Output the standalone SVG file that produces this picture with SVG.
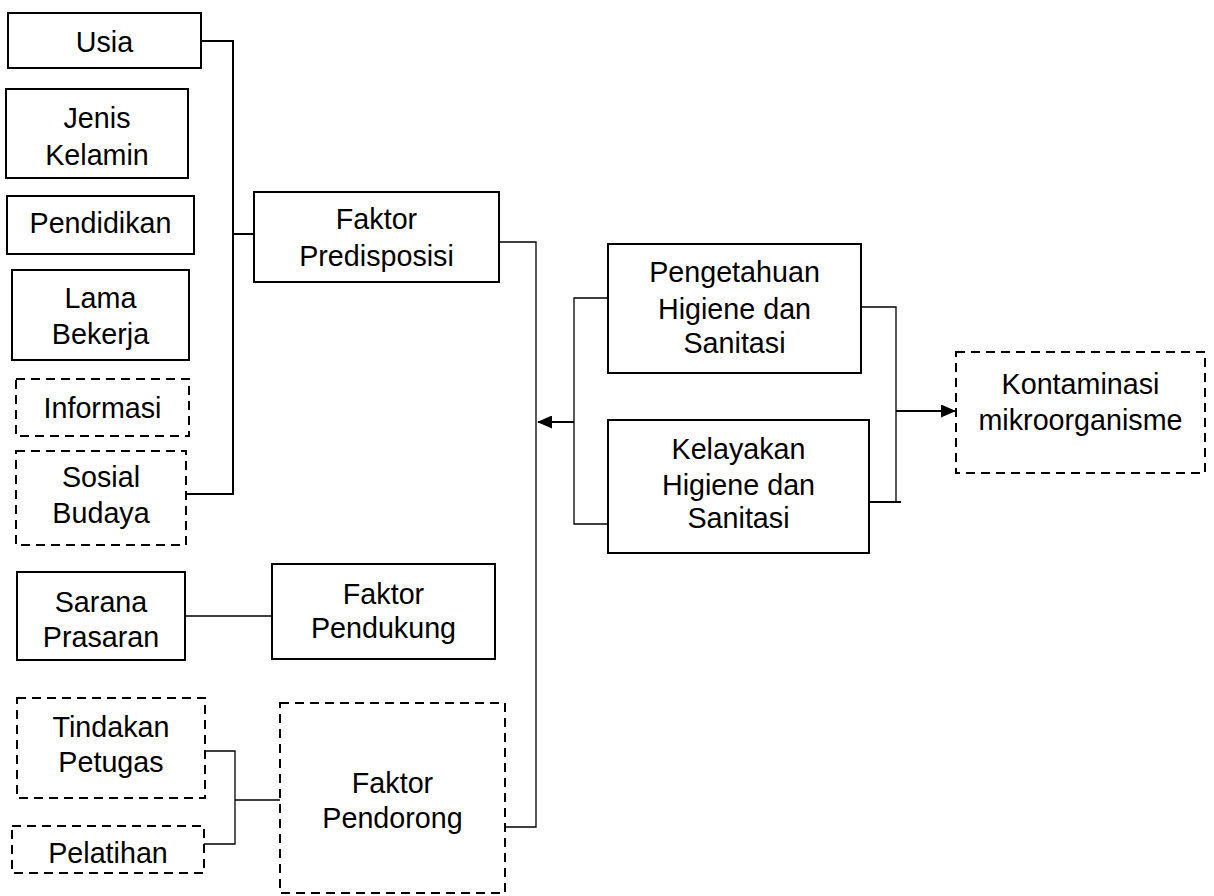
<svg xmlns="http://www.w3.org/2000/svg" width="1214" height="896" viewBox="0 0 1214 896">
  <style>
    .box { fill: #ffffff; stroke: #000000; stroke-width: 2; }
    .dash { fill: #ffffff; stroke: #000000; stroke-width: 2; stroke-dasharray: 9 6; }
    .lbl { font-family: "Liberation Sans", Arial, sans-serif; font-size: 28.7px; fill: #000000; text-anchor: middle; }
    .thin { fill: none; stroke: #000000; stroke-width: 1.3; }
    .thick { fill: none; stroke: #000000; stroke-width: 2; }
  </style>
  <defs>
    <marker id="arrow" viewBox="0 0 15 13" refX="14" refY="6.5" markerWidth="15" markerHeight="13" markerUnits="userSpaceOnUse" orient="auto">
      <path d="M0,0 L15,6.5 L0,13 Z" fill="#000000"/>
    </marker>
  </defs>

  <rect width="1214" height="896" fill="#ffffff"/>

  <!-- connectors -->
  <g id="connectors">
    <!-- predisposing factor bracket -->
    <path class="thick" d="M201,41 H233 V494 H186"/>
    <path class="thick" d="M233,234 H254"/>
    <!-- from predisposing / enabling / reinforcing factors to the trunk -->
    <path class="thin" d="M499,242 H536 V827 H505"/>
    <path class="thin" d="M185,616 H272"/>
    <!-- reinforcing factor bracket -->
    <path class="thin" d="M205,751 H235 V844 H204"/>
    <path class="thin" d="M235,800 H280"/>
    <!-- hygiene boxes to trunk -->
    <path class="thin" d="M608,298 H574 V524 H608"/>
    <path class="thick" d="M574,422 H538" marker-end="url(#arrow)"/>
    <!-- hygiene boxes to contamination -->
    <path class="thin" d="M861,307 H896 V502"/>
    <path class="thick" d="M869,502 H901"/>
    <path class="thick" d="M896,411 H955" marker-end="url(#arrow)"/>
  </g>

  <g id="usia">
    <rect class="box" x="8" y="13" width="193" height="55"/>
    <text class="lbl" x="104.5" y="52">Usia</text>
  </g>
  <g id="jenis-kelamin">
    <rect class="box" x="6" y="89" width="182" height="89"/>
    <text class="lbl" x="97" y="128">Jenis</text>
    <text class="lbl" x="97" y="165">Kelamin</text>
  </g>
  <g id="pendidikan">
    <rect class="box" x="7" y="196" width="187" height="58"/>
    <text class="lbl" x="100.5" y="233">Pendidikan</text>
  </g>
  <g id="lama-bekerja">
    <rect class="box" x="12" y="270" width="177" height="90"/>
    <text class="lbl" x="100.5" y="308">Lama</text>
    <text class="lbl" x="100.5" y="344">Bekerja</text>
  </g>
  <g id="informasi">
    <rect class="dash" x="16" y="379" width="173" height="57"/>
    <text class="lbl" x="102.5" y="418">Informasi</text>
  </g>
  <g id="sosial-budaya">
    <rect class="dash" x="16" y="451" width="170" height="94"/>
    <text class="lbl" x="101" y="487">Sosial</text>
    <text class="lbl" x="101" y="523">Budaya</text>
  </g>
  <g id="faktor-predisposisi">
    <rect class="box" x="254" y="192" width="245" height="90"/>
    <text class="lbl" x="376.5" y="229">Faktor</text>
    <text class="lbl" x="376.5" y="266">Predisposisi</text>
  </g>
  <g id="sarana-prasaran">
    <rect class="box" x="17" y="572" width="168" height="88"/>
    <text class="lbl" x="101" y="612">Sarana</text>
    <text class="lbl" x="101" y="647">Prasaran</text>
  </g>
  <g id="faktor-pendukung">
    <rect class="box" x="272" y="564" width="223" height="95"/>
    <text class="lbl" x="383.5" y="604">Faktor</text>
    <text class="lbl" x="383.5" y="638">Pendukung</text>
  </g>
  <g id="tindakan-petugas">
    <rect class="dash" x="17" y="698" width="188" height="100"/>
    <text class="lbl" x="111" y="737">Tindakan</text>
    <text class="lbl" x="111" y="772">Petugas</text>
  </g>
  <g id="pelatihan">
    <rect class="dash" x="12" y="826" width="192" height="47"/>
    <text class="lbl" x="108" y="863">Pelatihan</text>
  </g>
  <g id="faktor-pendorong">
    <rect class="dash" x="280" y="703" width="225" height="190"/>
    <text class="lbl" x="392.5" y="793">Faktor</text>
    <text class="lbl" x="392.5" y="828">Pendorong</text>
  </g>
  <g id="pengetahuan">
    <rect class="box" x="608" y="244" width="253" height="129"/>
    <text class="lbl" x="734.5" y="282">Pengetahuan</text>
    <text class="lbl" x="734.5" y="319">Higiene dan</text>
    <text class="lbl" x="734.5" y="353">Sanitasi</text>
  </g>
  <g id="kelayakan">
    <rect class="box" x="608" y="420" width="261" height="133"/>
    <text class="lbl" x="738.5" y="459">Kelayakan</text>
    <text class="lbl" x="738.5" y="495">Higiene dan</text>
    <text class="lbl" x="738.5" y="528">Sanitasi</text>
  </g>
  <g id="kontaminasi">
    <rect class="dash" x="956" y="352" width="249" height="121"/>
    <text class="lbl" x="1080.5" y="394">Kontaminasi</text>
    <text class="lbl" x="1080.5" y="430">mikroorganisme</text>
  </g>
</svg>
